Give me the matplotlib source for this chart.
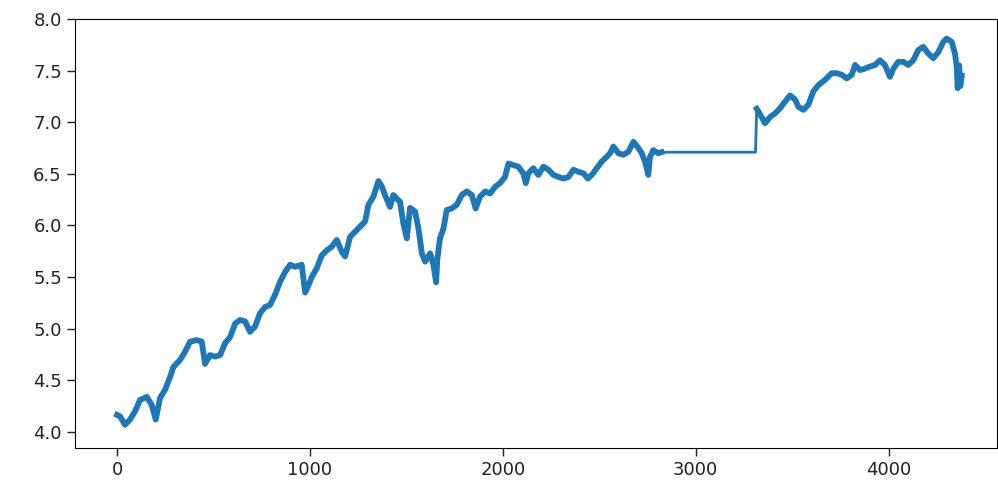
import matplotlib.pyplot as plt
import numpy as np

# index of the observation and its log level
idx = [
    0, 16, 41, 67, 93, 119, 154, 180, 200, 223, 249, 275, 292, 327, 353, 378,
    413, 439, 456, 482, 508, 534, 560, 586, 612, 638, 664, 689, 715, 741, 767, 793,
    819, 845, 871, 897, 923, 957, 975, 992, 1009, 1035, 1061, 1087, 1113, 1139,
    1165, 1182, 1208, 1234, 1260, 1286, 1303, 1329, 1355, 1372, 1389, 1415, 1432,
    1450, 1467, 1484, 1502, 1519, 1545, 1562, 1580, 1597, 1623, 1640, 1654,
    1660, 1674, 1692, 1709, 1735, 1761, 1787, 1813, 1839, 1859, 1882, 1908, 1934,
    1960, 1985, 2011, 2029, 2054, 2080, 2106, 2119, 2132, 2158, 2184, 2210, 2236,
    2262, 2288, 2314, 2340, 2366, 2392, 2418, 2440, 2461, 2487, 2513,
    2530, 2556, 2573, 2599, 2625, 2651, 2677, 2703, 2720, 2737, 2754, 2763, 2780,
    2806, 2823, 3310,
    3316, 3342, 3359, 3385, 3411, 3437, 3463, 3489, 3515, 3532, 3558, 3584, 3610,
    3636, 3670, 3705, 3731, 3757, 3783, 3809, 3826, 3852, 3878, 3904, 3930, 3955,
    3981, 4007, 4025, 4050, 4076, 4102, 4128, 4154, 4180, 4206, 4232, 4258, 4284,
    4301, 4327, 4344, 4353, 4358, 4366, 4372, 4379,
]
level = [
    4.165, 4.15, 4.07, 4.12, 4.20, 4.31, 4.34, 4.26, 4.12, 4.33, 4.41, 4.535, 4.63,
    4.70, 4.78, 4.875, 4.89, 4.875, 4.66, 4.745, 4.73, 4.745, 4.86, 4.92, 5.05,
    5.085, 5.07, 4.97, 5.02, 5.15, 5.21, 5.23,
    5.33, 5.455, 5.55, 5.62, 5.60, 5.62, 5.35, 5.42, 5.50, 5.585, 5.71, 5.76,
    5.795, 5.86, 5.745, 5.70, 5.89, 5.94, 5.99, 6.04, 6.20, 6.28, 6.43, 6.38,
    6.295, 6.18, 6.295, 6.26, 6.23, 6.02, 5.875, 6.17, 6.135, 5.975, 5.73, 5.65,
    5.73, 5.62, 5.45,
    5.67, 5.875, 5.97, 6.15, 6.165, 6.20, 6.295, 6.33, 6.295, 6.165, 6.28, 6.33,
    6.31, 6.375, 6.41, 6.47, 6.60, 6.585, 6.57, 6.505, 6.41, 6.505, 6.555, 6.49,
    6.57, 6.54, 6.49, 6.47, 6.455, 6.47, 6.54, 6.52, 6.505, 6.455, 6.49, 6.555,
    6.62,
    6.65, 6.70, 6.765, 6.70, 6.685, 6.715, 6.81, 6.75, 6.70, 6.62, 6.49, 6.665,
    6.73, 6.70, 6.71, 6.71,
    7.13, 7.05, 6.99, 7.05, 7.085, 7.135, 7.20, 7.26, 7.22, 7.15, 7.12, 7.17, 7.30,
    7.36, 7.41, 7.475, 7.475, 7.46, 7.425, 7.46, 7.555, 7.505, 7.52, 7.54, 7.555,
    7.60, 7.555, 7.44, 7.52, 7.585, 7.585, 7.555, 7.60, 7.70, 7.73, 7.665, 7.62,
    7.68, 7.78, 7.81, 7.78, 7.665, 7.54, 7.33, 7.55, 7.35, 7.45,
]

# stretch with no observations, only joined by a straight segment
gap_start, gap_end = 2823, 3310

plt.rcParams["font.size"] = 13

x = np.asarray(idx)
y = np.asarray(level)
before = x <= gap_start
after = x > gap_end

fig = plt.figure(figsize=(9.98, 4.8), dpi=100)
ax = fig.add_axes([0.0752, 0.0667, 0.9238, 0.8937])

ax.plot(x, y, color="tab:blue", linewidth=2.0)
ax.plot(x[before], y[before], color="tab:blue", linewidth=4.2)
ax.plot(x[after], y[after], color="tab:blue", linewidth=4.2)

ax.set_xlim(-218, 4562)
ax.set_ylim(3.845, 8.0)
ax.set_xticks([0, 1000, 2000, 3000, 4000])
ax.set_yticks([4.0, 4.5, 5.0, 5.5, 6.0, 6.5, 7.0, 7.5, 8.0])
ax.tick_params(length=6, width=1, colors="#222222")

fig.savefig("out.png", dpi=100)
